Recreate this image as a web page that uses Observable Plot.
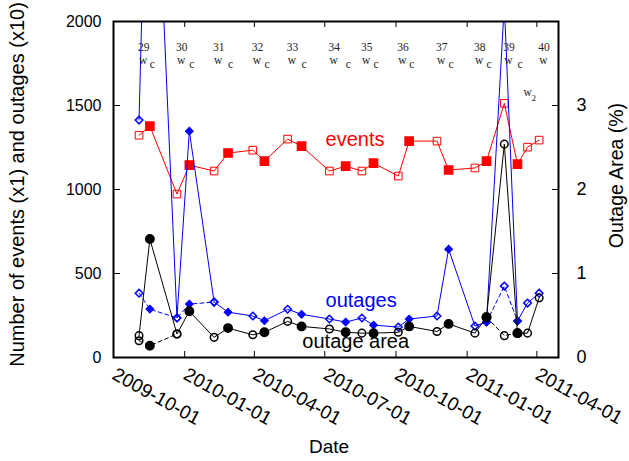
<!DOCTYPE html>
<html>
<head>
<meta charset="utf-8">
<script src="https://cdn.jsdelivr.net/npm/d3@7"></script>
<script src="https://cdn.jsdelivr.net/npm/@observablehq/plot@0.6"></script>
<style>
  html, body { margin: 0; padding: 0; background: #fff; }
</style>
</head>
<body>
<div id="chart"></div>
<script>
// ---- data ----
const dates = [
  "2009-11-03","2009-11-17","2009-12-22","2010-01-07","2010-02-08","2010-02-26",
  "2010-03-30","2010-04-14","2010-05-14","2010-06-01","2010-07-07","2010-07-28",
  "2010-08-18","2010-09-02","2010-10-04","2010-10-18","2010-11-23","2010-12-08",
  "2011-01-11","2011-01-26","2011-02-18","2011-03-07","2011-03-20","2011-04-04"
];
const kinds = ["w","c","w","c","w","c","w","c","w","c","w","c",
               "w","c","w","c","w","c","w","c","w","c","w2","w"];
const events = [1323,1377,973,1145,1110,1217,1234,1169,1300,1258,1110,1139,
                1110,1157,1080,1288,1288,1116,1128,1169,1513,1151,1252,1294];
// outages (x10), solid line
const outagesSolid = [1413,3900,235,1347,330,270,247,219,287,257,229,211,
                      235,193,181,229,247,645,187,211,2100,217,324,383];
// outages (x10), dashed alternative
const outagesDashed = [383,288,235,318,330,NaN,NaN,NaN,NaN,NaN,NaN,NaN,
                       NaN,NaN,NaN,NaN,NaN,NaN,NaN,211,425,217,NaN,NaN];
// outage area (%), solid line
const areaSolid = [0.26,1.41,0.28,0.55,0.24,0.35,0.27,0.30,0.43,0.37,0.34,0.30,
                   0.29,0.29,0.30,0.37,0.31,0.40,0.29,0.48,2.54,0.29,0.29,0.71];
// outage area (%), dashed alternative
const areaDashed = [0.20,0.14,0.28,NaN,NaN,NaN,NaN,NaN,NaN,NaN,NaN,NaN,
                    NaN,NaN,NaN,NaN,NaN,NaN,NaN,0.48,0.26,0.29,NaN,NaN];
const weekNumbers = [29,30,31,32,33,34,35,36,37,38,39,40];
const xTickLabels = ["2009-10-01","2010-01-01","2010-04-01","2010-07-01","2010-10-01","2011-01-01","2011-04-01"];
const xDomain = ["2009-10-01","2011-04-29"];
const leftTicks = [0,500,1000,1500,2000];
const rightTicks = [0,1,2,3];
const areaFactor = 500; // 1 % outage area corresponds to 500 on the left axis

// ---- layout ----
const W = 629, H = 461, mL = 113, mR = 71, mT = 21, mB = 104;
const innerW = W - mL - mR, innerH = H - mT - mB;
const RED = "#ff0000", BLUE = "#0000ff", BLACK = "#000000";
const SERIF = "Liberation Serif, DejaVu Serif, serif";

const rows = dates.map((d, i) => ({
  date: new Date(d),
  kind: kinds[i],
  filled: kinds[i] === "c",
  events: events[i],
  outA: outagesSolid[i],
  outB: outagesDashed[i],
  areaA: areaSolid[i] * areaFactor,
  areaB: areaDashed[i] * areaFactor
}));
const wRows = rows.filter(r => r.kind === "w").map((r, i) => ({...r, week: String(weekNumbers[i])}));
const cRows = rows.filter(r => r.kind === "c");
const w2Rows = rows.filter(r => r.kind === "w2");
const xTicks = xTickLabels.map(d => new Date(d));
const filled = rows.filter(r => r.filled);
const open = rows.filter(r => !r.filled);
const dash = "4,3";

const chart = Plot.plot({
  width: W, height: H,
  marginLeft: mL, marginRight: mR, marginTop: mT, marginBottom: mB,
  x: {type: "utc", domain: xDomain.map(d => new Date(d))},
  y: {domain: [0, 2000]},
  style: {fontFamily: "Liberation Sans, Arial, Helvetica, sans-serif", background: "#fff", color: "#000"},
  marks: [
    // axes (labels only) and inward ticks
    Plot.axisY(leftTicks, {anchor: "left", tickSize: 0, tickPadding: 12, fontSize: 16,
      tickFormat: d => String(d), label: null}),
    Plot.axisY(rightTicks.map(v => v * areaFactor), {anchor: "right", tickSize: 0, tickPadding: 18, fontSize: 18,
      tickFormat: d => String(d / areaFactor), label: null}),
    Plot.axisX(xTicks, {anchor: "bottom", tickSize: 0, tickPadding: 9, tickRotate: 29, textAnchor: "start",
      lineAnchor: "top", dx: 4, fontSize: 19, tickFormat: d3.utcFormat("%Y-%m-%d"), label: null}),
    Plot.tickX(xTicks, {x: d => d, insetTop: innerH - 6, stroke: BLACK}),
    Plot.tickX(xTicks, {x: d => d, insetBottom: innerH - 6, stroke: BLACK}),
    Plot.tickY(leftTicks, {y: d => d, insetRight: innerW - 7, stroke: BLACK}),
    Plot.tickY(rightTicks.map(v => v * areaFactor), {y: d => d, insetLeft: innerW - 6, stroke: BLACK}),

    // events
    Plot.line(rows, {x: "date", y: "events", stroke: RED, strokeWidth: 1}),
    Plot.dot(open, {x: "date", y: "events", symbol: "square", r: 4.3, stroke: RED, fill: "none", strokeWidth: 1}),
    Plot.dot(filled, {x: "date", y: "events", symbol: "square", r: 4.6, stroke: RED, fill: RED}),

    // outages
    Plot.line(rows, {x: "date", y: "outA", stroke: BLUE, strokeWidth: 1, clip: true}),
    Plot.line(rows, {x: "date", y: "outB", stroke: BLUE, strokeWidth: 1, strokeDasharray: dash}),
    Plot.dot(open, {x: "date", y: "outA", symbol: "diamond2", r: 3.4, stroke: BLUE, fill: "none", clip: true}),
    Plot.dot(filled, {x: "date", y: "outA", symbol: "diamond2", r: 3.2, stroke: BLUE, fill: BLUE, clip: true}),
    Plot.dot(open, {x: "date", y: "outB", symbol: "diamond2", r: 3.4, stroke: BLUE, fill: "none"}),
    Plot.dot(filled, {x: "date", y: "outB", symbol: "diamond2", r: 3.2, stroke: BLUE, fill: BLUE}),

    // outage area (right axis)
    Plot.line(rows, {x: "date", y: "areaA", stroke: BLACK, strokeWidth: 1}),
    Plot.line(rows, {x: "date", y: "areaB", stroke: BLACK, strokeWidth: 1, strokeDasharray: dash}),
    Plot.dot(open, {x: "date", y: "areaA", r: 3.8, stroke: BLACK, fill: "none"}),
    Plot.dot(filled, {x: "date", y: "areaA", r: 4.2, stroke: BLACK, fill: BLACK}),
    Plot.dot(open, {x: "date", y: "areaB", r: 3.8, stroke: BLACK, fill: "none"}),
    Plot.dot(filled, {x: "date", y: "areaB", r: 4.2, stroke: BLACK, fill: BLACK}),

    // series labels
    Plot.text(["events"], {x: () => new Date("2010-07-02"), y: () => 1295, text: d => d, fill: RED, fontSize: 20, textAnchor: "start"}),
    Plot.text(["outages"], {x: () => new Date("2010-07-02"), y: () => 338, text: d => d, fill: BLUE, fontSize: 20, textAnchor: "start"}),
    Plot.text(["outage area"], {x: () => new Date("2010-06-02"), y: () => 95, text: d => d, fill: BLACK, fontSize: 20, textAnchor: "start"}),

    // week annotations along the top
    Plot.text(wRows, {x: "date", text: "week", frameAnchor: "top", dy: 29, dx: -1, lineAnchor: "bottom",
      textAnchor: "start", fontFamily: SERIF, fontSize: 11.5, fill: "#222"}),
    Plot.text(wRows, {x: "date", text: () => "w", frameAnchor: "top", dy: 42, lineAnchor: "bottom",
      textAnchor: "start", fontFamily: SERIF, fontSize: 11.5, fill: "#222"}),
    Plot.text(cRows, {x: "date", text: () => "c", frameAnchor: "top", dy: 46, lineAnchor: "bottom",
      textAnchor: "start", fontFamily: SERIF, fontSize: 11.5, fill: "#222"}),
    Plot.text(w2Rows, {x: "date", text: () => "w", frameAnchor: "top", dy: 74, dx: -4, lineAnchor: "bottom",
      textAnchor: "start", fontFamily: SERIF, fontSize: 11.5, fill: "#222"}),
    Plot.text(w2Rows, {x: "date", text: () => "2", frameAnchor: "top", dy: 79, dx: 4, lineAnchor: "bottom",
      textAnchor: "start", fontFamily: SERIF, fontSize: 9, fill: "#222"}),

    // axis titles
    Plot.text(["Date"], {frameAnchor: "bottom", text: d => d, dy: 95, dx: -7, fontSize: 19, textAnchor: "middle"}),
    Plot.text(["Number of events (x1) and outages (x10)"], {frameAnchor: "left", text: d => d, rotate: -90,
      textAnchor: "middle", dx: -96, dy: -5, fontSize: 20}),
    Plot.text(["Outage Area (%)"], {frameAnchor: "right", text: d => d, rotate: -90, textAnchor: "middle",
      dx: 58, dy: -14, fontSize: 19.5}),

    Plot.frame({stroke: BLACK, strokeWidth: 2})
  ]
});
document.getElementById("chart").appendChild(chart);
</script>
</body>
</html>
